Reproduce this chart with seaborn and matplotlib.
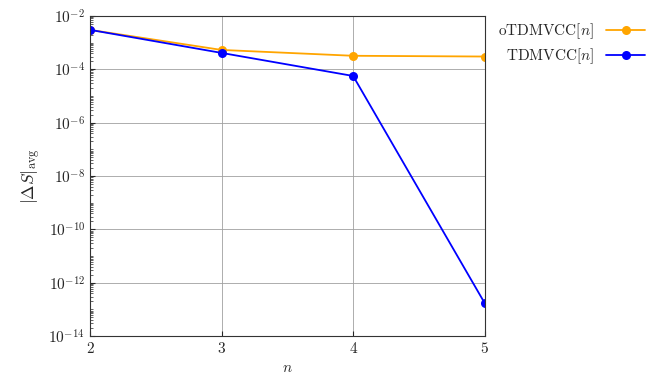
import matplotlib
matplotlib.use("Agg")
import matplotlib.pyplot as plt
import matplotlib.ticker as mticker
import seaborn as sns
import pandas as pd
import numpy as np

n_vals = [2, 3, 4, 5]
otdmvcc = [3.0e-3, 5.3e-4, 3.2e-4, 3.0e-4]
tdmvcc = [3.0e-3, 4.1e-4, 5.6e-5, 1.7e-13]
labels = [r"oTDMVCC$[n]$", r"TDMVCC$[n]$"]

df = pd.DataFrame({
    "n": n_vals * 2,
    "val": otdmvcc + tdmvcc,
    "method": [labels[0]] * 4 + [labels[1]] * 4,
})

sns.set_style("ticks")
plt.rcParams["font.family"] = "serif"
plt.rcParams["font.serif"] = ["cmr10", "DejaVu Serif"]
plt.rcParams["mathtext.fontset"] = "cm"
plt.rcParams["axes.formatter.use_mathtext"] = True

fig = plt.figure(figsize=(6.64, 3.88), dpi=100)
ax = fig.add_axes([0.1355, 0.134, 0.5945, 0.825])

sns.lineplot(data=df, x="n", y="val", hue="method", palette=["#ffa500", "#0000ff"],
             marker="o", markersize=6.5, markeredgewidth=0, linewidth=1.3, ax=ax)

ax.set_yscale("log")
ax.set_ylim(1e-14, 1e-2)
ax.set_xlim(2, 5)
ax.set_xticks(n_vals)
ax.set_yticks([10.0**k for k in range(-14, -1, 2)])
ax.yaxis.set_minor_locator(mticker.LogLocator(base=10, subs=np.arange(1, 10), numticks=40))
ax.yaxis.set_minor_formatter(mticker.NullFormatter())
ax.grid(True, which="major", color="#a0a0a0", linewidth=0.6)
ax.tick_params(direction="in", which="both", top=False, right=False, labelsize=11)
ax.tick_params(which="minor", length=2, width=0.5)
for s in ax.spines.values():
    s.set_linewidth(0.8)
    s.set_color("#333333")

ax.set_xlabel(r"$n$", fontsize=11)
ax.set_ylabel(r"$|\Delta S|_{\mathrm{avg}}$", fontsize=12.5)

h, l = ax.get_legend_handles_labels()
ax.legend(h, l, loc="upper left", bbox_to_anchor=(1.0, 1.025), frameon=False,
          markerfirst=False, fontsize=11, handlelength=2.5, labelspacing=0.35)

fig.savefig("out.png", dpi=100)
